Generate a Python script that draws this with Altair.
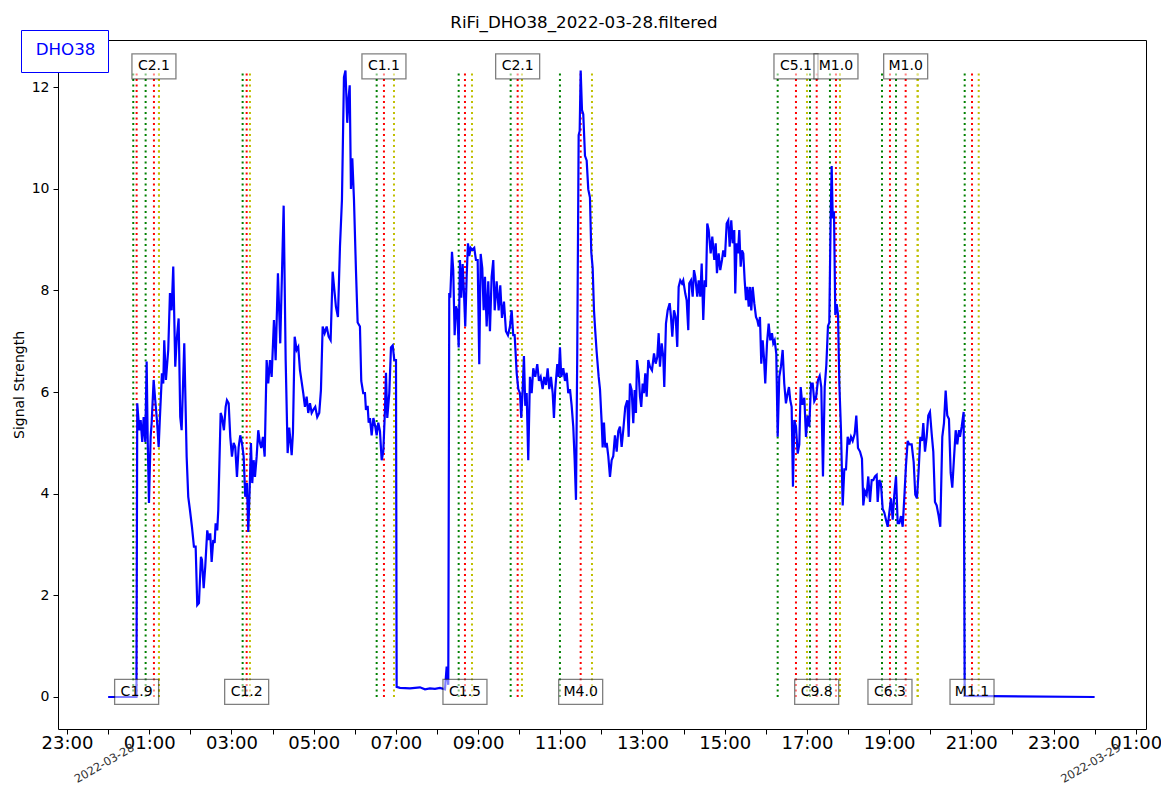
import altair as alt
import pandas as pd

TITLE = "RiFi_DHO38_2022-03-28.filtered"
STATION = "DHO38"

# hours since 2022-03-28 00:00
HOURS = [
    0.000, 0.689, 0.708, 0.757, 0.791, 0.830, 0.864, 0.903, 0.937, 0.961, 0.993, 1.034, 1.058, 1.107, 1.146,
    1.187, 1.229, 1.260, 1.309, 1.341, 1.365, 1.406, 1.462, 1.504, 1.545, 1.584, 1.633, 1.667, 1.715, 1.754,
    1.788, 1.852, 1.910, 1.949, 1.990, 2.039, 2.087, 2.129, 2.168, 2.209, 2.258, 2.282, 2.324, 2.362, 2.411,
    2.452, 2.484, 2.518, 2.557, 2.591, 2.615, 2.654, 2.679, 2.737, 2.769, 2.817, 2.859, 2.890, 2.932, 2.971,
    3.012, 3.053, 3.092, 3.134, 3.175, 3.214, 3.255, 3.297, 3.336, 3.377, 3.409, 3.443, 3.474, 3.506, 3.540,
    3.572, 3.613, 3.652, 3.693, 3.725, 3.766, 3.808, 3.856, 3.895, 3.937, 3.978, 4.034, 4.075, 4.131, 4.187,
    4.270, 4.319, 4.367, 4.406, 4.465, 4.496, 4.538, 4.586, 4.625, 4.667, 4.708, 4.747, 4.788, 4.829, 4.868,
    4.910, 4.951, 4.990, 5.039, 5.087, 5.136, 5.177, 5.219, 5.267, 5.316, 5.365, 5.413, 5.462, 5.511, 5.542,
    5.591, 5.640, 5.688, 5.737, 5.774, 5.817, 5.851, 5.877, 5.907, 5.940, 5.981, 6.029, 6.070, 6.126, 6.158,
    6.206, 6.248, 6.272, 6.314, 6.338, 6.370, 6.411, 6.453, 6.499, 6.533, 6.572, 6.613, 6.655, 6.694, 6.735,
    6.759, 6.791, 6.840, 6.881, 6.923, 6.962, 7.003, 7.019, 7.100, 7.343, 7.586, 7.708, 7.829, 7.951, 8.073,
    8.195, 8.236, 8.275, 8.299, 8.323, 8.365, 8.396, 8.430, 8.462, 8.494, 8.528, 8.559, 8.591, 8.625, 8.657,
    8.688, 8.722, 8.754, 8.785, 8.819, 8.858, 8.907, 8.948, 8.990, 9.029, 9.063, 9.102, 9.136, 9.168, 9.209,
    9.248, 9.289, 9.330, 9.370, 9.404, 9.452, 9.501, 9.540, 9.581, 9.630, 9.678, 9.727, 9.776, 9.817, 9.856,
    9.890, 9.939, 9.978, 10.019, 10.051, 10.085, 10.116, 10.148, 10.182, 10.221, 10.262, 10.304, 10.343, 10.391, 10.440,
    10.481, 10.523, 10.571, 10.610, 10.652, 10.693, 10.732, 10.773, 10.815, 10.846, 10.878, 10.927, 10.961, 10.992, 11.024,
    11.073, 11.114, 11.155, 11.194, 11.236, 11.277, 11.316, 11.350, 11.382, 11.413, 11.447, 11.472, 11.496, 11.528, 11.559,
    11.601, 11.642, 11.681, 11.722, 11.754, 11.788, 11.820, 11.851, 11.885, 11.934, 11.966, 12.007, 12.031, 12.063, 12.095,
    12.129, 12.168, 12.209, 12.250, 12.289, 12.330, 12.372, 12.411, 12.452, 12.493, 12.532, 12.581, 12.630, 12.664, 12.695,
    12.737, 12.776, 12.810, 12.841, 12.866, 12.907, 12.939, 12.970, 13.004, 13.036, 13.068, 13.102, 13.141, 13.182, 13.231,
    13.280, 13.321, 13.360, 13.394, 13.425, 13.467, 13.506, 13.530, 13.571, 13.613, 13.661, 13.693, 13.725, 13.766, 13.807,
    13.846, 13.880, 13.919, 13.961, 13.992, 14.041, 14.075, 14.114, 14.138, 14.180, 14.221, 14.253, 14.284, 14.333, 14.367,
    14.406, 14.440, 14.479, 14.513, 14.545, 14.576, 14.610, 14.659, 14.698, 14.747, 14.781, 14.812, 14.853, 14.892, 14.934,
    14.965, 15.007, 15.048, 15.087, 15.121, 15.160, 15.194, 15.233, 15.257, 15.291, 15.323, 15.355, 15.389, 15.421, 15.452,
    15.486, 15.518, 15.549, 15.584, 15.615, 15.647, 15.681, 15.720, 15.761, 15.793, 15.827, 15.858, 15.890, 15.924, 15.955,
    15.987, 16.029, 16.070, 16.109, 16.150, 16.182, 16.216, 16.255, 16.289, 16.328, 16.369, 16.410, 16.449, 16.490, 16.532,
    16.564, 16.595, 16.629, 16.661, 16.693, 16.734, 16.776, 16.815, 16.849, 16.888, 16.937, 16.978, 17.019, 17.058, 17.100,
    17.141, 17.180, 17.222, 17.270, 17.311, 17.350, 17.391, 17.433, 17.472, 17.513, 17.545, 17.579, 17.603, 17.628, 17.659,
    17.691, 17.725, 17.757, 17.789, 17.829, 17.871, 17.910, 17.951, 17.992, 18.031, 18.073, 18.114, 18.163, 18.202, 18.243,
    18.292, 18.340, 18.372, 18.413, 18.454, 18.493, 18.535, 18.576, 18.615, 18.656, 18.697, 18.722, 18.761, 18.802, 18.844,
    18.883, 18.924, 18.966, 19.005, 19.046, 19.087, 19.126, 19.168, 19.209, 19.248, 19.289, 19.330, 19.369, 19.410, 19.452,
    19.491, 19.549, 19.598, 19.637, 19.678, 19.720, 19.759, 19.800, 19.832, 19.873, 19.914, 19.953, 19.994, 20.036, 20.075,
    20.116, 20.157, 20.206, 20.245, 20.294, 20.335, 20.376, 20.415, 20.456, 20.498, 20.537, 20.578, 20.620, 20.659, 20.700,
    20.724, 20.766, 20.814, 20.839, 24.000,
]

SIGNAL = [
    0.00, 0.00, 5.78, 5.25, 5.45, 5.02, 5.51, 5.02, 6.60, 5.12, 3.82, 5.12, 5.39, 6.24, 5.84,
    5.45, 4.92, 5.51, 6.37, 6.17, 7.02, 6.24, 6.83, 7.95, 7.61, 8.47, 6.50, 7.02, 7.45, 5.51,
    5.25, 6.96, 4.73, 3.94, 3.68, 3.35, 2.96, 2.96, 1.81, 1.85, 2.76, 2.70, 2.14, 2.56, 3.28,
    3.09, 3.22, 2.66, 3.09, 3.03, 3.42, 3.28, 3.68, 5.59, 5.51, 5.25, 5.71, 5.84, 5.78, 5.12,
    4.73, 5.00, 4.92, 4.33, 4.92, 5.15, 5.00, 4.73, 3.94, 4.21, 3.25, 4.07, 5.00, 4.21, 4.66,
    4.33, 4.73, 5.25, 5.00, 4.90, 5.12, 4.73, 6.63, 6.17, 6.63, 6.30, 7.42, 6.63, 8.34, 6.96,
    9.67, 6.63, 4.80, 5.30, 4.76, 5.20, 7.09, 6.83, 6.89, 6.43, 6.20, 5.98, 5.71, 5.91, 5.59,
    5.78, 5.59, 5.65, 5.71, 5.51, 5.59, 6.04, 7.29, 7.16, 7.29, 7.09, 7.02, 8.37, 7.95, 7.68,
    7.48, 8.86, 9.78, 12.20, 12.33, 11.30, 11.80, 12.04, 10.00, 10.60, 9.78, 8.40, 7.37, 7.29, 6.22,
    5.98, 5.98, 5.65, 5.73, 5.40, 5.49, 5.15, 5.49, 5.32, 5.15, 5.40, 5.23, 4.66, 4.83, 5.65,
    6.38, 5.49, 5.98, 6.88, 6.92, 6.63, 6.63, 0.20, 0.18, 0.17, 0.19, 0.15, 0.17, 0.16, 0.18,
    0.15, 0.60, 0.24, 7.95, 7.86, 8.76, 8.40, 7.12, 7.69, 7.61, 6.88, 8.60, 7.86, 8.52, 7.95,
    7.29, 8.27, 8.93, 8.68, 8.84, 8.80, 8.84, 8.60, 8.60, 6.55, 8.72, 8.44, 7.61, 8.27, 7.29,
    8.18, 7.20, 8.27, 8.60, 7.61, 8.18, 7.61, 8.10, 7.46, 7.78, 7.20, 7.12, 7.29, 7.61, 7.12,
    7.12, 6.38, 6.06, 5.98, 5.49, 6.06, 6.71, 5.73, 5.98, 4.66, 6.30, 5.98, 6.47, 6.30, 6.55,
    6.22, 6.30, 6.06, 6.30, 6.14, 6.47, 6.06, 6.30, 5.98, 5.49, 6.06, 6.55, 6.30, 6.88, 6.30,
    6.47, 6.22, 6.38, 5.98, 6.06, 5.73, 5.32, 4.66, 3.88, 6.79, 11.06, 11.14, 12.33, 11.55, 11.47,
    10.65, 10.56, 9.99, 9.83, 8.76, 8.44, 7.61, 7.20, 6.79, 6.30, 6.06, 5.40, 4.91, 5.40, 4.91,
    5.00, 4.74, 4.33, 4.66, 4.74, 5.15, 4.83, 5.23, 5.32, 4.92, 5.25, 5.71, 5.84, 5.12, 6.17,
    6.04, 5.39, 6.04, 5.59, 6.63, 6.37, 5.91, 5.71, 6.17, 5.98, 6.37, 5.91, 6.63, 6.50, 6.43,
    6.76, 6.56, 6.69, 7.16, 6.50, 6.96, 6.69, 6.10, 7.35, 7.61, 7.75, 7.48, 7.09, 7.61, 7.48,
    6.89, 8.07, 8.20, 8.14, 8.20, 7.94, 7.81, 7.22, 8.14, 8.20, 7.88, 8.40, 8.27, 7.88, 8.20,
    7.88, 8.53, 7.42, 8.20, 8.07, 9.32, 9.19, 8.73, 9.06, 8.60, 8.93, 8.34, 8.73, 8.40, 8.60,
    8.79, 8.66, 9.32, 9.38, 8.86, 9.38, 8.93, 9.19, 7.94, 8.93, 8.73, 9.19, 8.47, 8.79, 8.73,
    8.20, 7.81, 8.07, 7.68, 8.07, 7.61, 8.07, 7.75, 7.48, 7.42, 7.29, 7.48, 6.56, 7.02, 6.69,
    6.17, 6.96, 7.35, 7.02, 7.16, 6.96, 7.02, 6.76, 5.12, 6.30, 6.50, 6.83, 6.17, 5.78, 5.98,
    6.10, 5.84, 5.71, 4.14, 5.45, 5.32, 4.79, 4.97, 6.10, 5.75, 5.89, 5.12, 5.54, 5.32, 6.17,
    6.17, 5.82, 5.89, 6.24, 6.32, 6.10, 4.34, 6.10, 6.52, 7.30, 7.37, 9.49, 10.45, 9.42, 9.56,
    7.52, 7.73, 7.52, 6.17, 5.25, 3.77, 4.48, 4.48, 5.12, 4.97, 5.12, 5.04, 5.18, 5.54, 4.90,
    4.83, 4.69, 3.77, 4.05, 3.98, 4.34, 3.84, 4.27, 4.27, 4.34, 4.37, 3.84, 4.27, 4.19, 3.70,
    3.63, 3.49, 3.35, 3.63, 3.91, 3.49, 3.98, 4.34, 3.42, 3.42, 3.56, 3.35, 3.91, 4.55, 5.04,
    4.97, 4.97, 4.62, 3.98, 3.91, 4.48, 5.12, 5.04, 5.39, 4.83, 5.12, 5.54, 5.61, 5.18, 4.83,
    3.84, 3.77, 3.56, 3.35, 5.12, 5.39, 6.03, 5.54, 5.47, 4.41, 4.12, 4.69, 5.25, 4.97, 5.25,
    5.12, 5.32, 5.61, 0.02, 0.00,
]

FLARE_CLASS = ["C1.9", "C2.1", "C1.2", "C1.1", "C1.5", "C2.1", "M4.0",
               "C5.1", "C9.8", "M1.0", "C6.3", "M1.0", "M1.1"]
FLARE_START = [0.611, 0.912, 3.272, 6.533, 8.528, 9.793, 10.992,
               16.289, 17.075, 17.561, 18.827, 19.168, 20.839]
FLARE_PEAK = [0.693, 1.114, 3.370, 6.710, 8.681, 9.963, 11.496,
              16.734, 17.238, 17.707, 19.021, 19.403, 21.017]
FLARE_END = [1.236, 1.236, 3.450, 6.954, 8.852, 10.068, 11.771,
             17.002, 17.805, 17.805, 19.695, 19.695, 21.180]
FLARE_LABEL_SIDE = ["bottom", "top", "bottom", "top", "bottom", "top", "bottom",
                    "top", "bottom", "top", "bottom", "top", "bottom"]
LABEL_LEVEL = {"top": 12.41, "bottom": 0.1}

DATE_TICKS = [0, 24]
DATE_LABELS = ["2022-03-28", "2022-03-29"]

HOUR_TICKS = list(range(-1, 26))
Y_TICKS = [0, 2, 4, 6, 8, 10, 12]

FONT = "DejaVu Sans"

sig = pd.DataFrame({"hour": HOURS, "signal": SIGNAL, "station": STATION})
top = max(SIGNAL)

def rules_df(times):
    return pd.DataFrame({"hour": times, "lo": 0.0, "hi": top})

labels = pd.DataFrame({
    "hour": FLARE_PEAK,
    "cls": FLARE_CLASS,
    "y": [LABEL_LEVEL[s] for s in FLARE_LABEL_SIDE],
})
dates = pd.DataFrame({"hour": DATE_TICKS, "label": DATE_LABELS})

label_expr = (
    "datum.value % 2 == 0 ? '' : "
    "(((((datum.value % 24) + 24) % 24) < 10) ? '0' : '') + "
    "(((datum.value % 24) + 24) % 24) + ':00'"
)

x_enc = alt.X(
    "hour:Q",
    scale=alt.Scale(domain=[-1.22, 25.25], nice=False, zero=False),
    axis=alt.Axis(values=HOUR_TICKS, labelExpr=label_expr, title=None,
                  labelFontSize=18, labelPadding=0, tickSize=5,
                  labelFlush=False, labelOverlap=False),
)
y_scale = alt.Scale(domain=[-0.63, 12.93], nice=False, zero=False)
y_axis = alt.Axis(values=Y_TICKS, title="Signal Strength", labelFontSize=14,
                  titleFontSize=14, tickSize=5, labelPadding=4, titlePadding=5)


def rule_layer(times, color):
    return alt.Chart(rules_df(times)).mark_rule(
        color=color, strokeWidth=2, strokeDash=[2, 3.5]
    ).encode(
        x=x_enc,
        y=alt.Y("lo:Q", scale=y_scale, axis=y_axis),
        y2="hi:Q",
    )


starts = rule_layer(FLARE_START, "#008000")
peaks = rule_layer(FLARE_PEAK, "#ff0000")
ends = rule_layer(FLARE_END, "#bfbf00")

line = alt.Chart(sig).mark_line(strokeWidth=2.2).encode(
    x=x_enc,
    y=alt.Y("signal:Q", scale=y_scale, axis=y_axis),
    color=alt.Color(
        "station:N",
        scale=alt.Scale(domain=[STATION], range=["#0000ff"]),
        legend=alt.Legend(
            orient="none", legendX=-37, legendY=-10, title=None,
            labelFontSize=16.7, labelColor="#0000ff", labelFont=FONT,
            strokeColor="#0000ff", fillColor="white", padding=12,
            symbolSize=0, symbolStrokeWidth=0, symbolOpacity=0,
            labelOffset={"expr": "-14"},
        ),
    ),
)

boxes = alt.Chart(labels).mark_point(
    shape="M-1,-0.57H1V0.57H-1Z", size=1936, filled=True,
    fill="white", fillOpacity=0.5, stroke="black", strokeOpacity=0.5, strokeWidth=1.3,
).encode(
    x=x_enc,
    y=alt.Y("y:Q", scale=y_scale, axis=y_axis),
)

texts = alt.Chart(labels).mark_text(
    fontSize=14, font=FONT, color="black", align="center", baseline="middle",
).encode(
    x=x_enc,
    y=alt.Y("y:Q", scale=y_scale, axis=y_axis),
    text="cls:N",
)

date_text = alt.Chart(dates).mark_text(
    fontSize=11.5, font=FONT, color="#333333", angle=330, align="center",
    baseline="middle", dx=-4,
).encode(
    x=x_enc,
    y=alt.value(722),
    text="label:N",
)

chart = alt.layer(starts, peaks, ends, line, boxes, texts, date_text).properties(
    width=1088,
    height=689,
    title=alt.TitleParams(TITLE, fontSize=16.7, font=FONT, fontWeight="normal",
                          anchor="middle", dx=-18, offset=-2, color="black"),
    autosize=alt.AutoSizeParams(type="none"),
    padding={"left": 50, "top": 32, "right": 15, "bottom": 62},
).configure_view(
    stroke="black", strokeWidth=1,
).configure_axis(
    domain=False, grid=False, tickColor="black", labelColor="black",
    labelFont=FONT, titleFont=FONT, titleFontWeight="normal", titleColor="black",
)

chart.save("out.html", embed_options={"renderer": "svg", "actions": False})
